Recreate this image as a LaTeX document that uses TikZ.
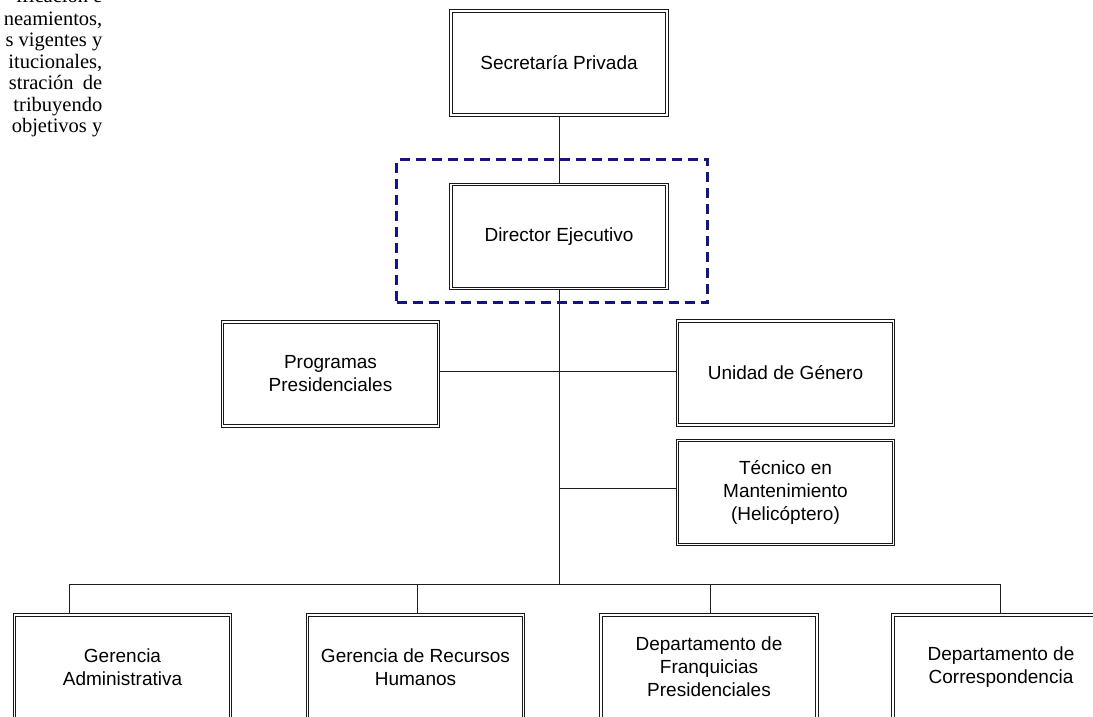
\documentclass[tikz,border=0pt]{standalone}
\usepackage{fontspec}
\newfontfamily\boxfont{Liberation Sans}
\newfontfamily\parafont{Liberation Serif}
\usetikzlibrary{backgrounds}
\definecolor{navyline}{RGB}{20,20,130}
\definecolor{linkgray}{RGB}{30,30,30}
\tikzset{
  orgbox/.style={draw=black!90, double=white, double distance=1.8pt, line width=0.9pt,
    fill=white, minimum width=216pt, minimum height=104pt, inner sep=0pt, align=center,
    font=\boxfont\fontsize{19}{23}\selectfont},
  link/.style={draw=linkgray, line width=1pt},
  framebox/.style={draw=navyline, line width=3pt, dash pattern=on 10pt off 6pt,
    minimum width=311pt, minimum height=143pt, inner sep=0pt},
  para/.style={anchor=base east, inner sep=0pt, font=\parafont\fontsize{20.5}{21.7}\selectfont}
}
\begin{document}
\begin{tikzpicture}[x=1pt,y=-1pt]
\useasboundingbox (0,0) rectangle (1093,716);
\clip (0,0) rectangle (1093,716);

% clipped paragraph on the left
\node[para] (p0) at (102.5,2.5) {ificación e};
\node[para] (p1) at (102.5,25) {neamientos,};
\node[para] (p2) at (102.5,46.5) {s vigentes y};
\node[para] (p3) at (102.5,68) {itucionales,};
\node[para] (p4) at (102.5,89.5) {stración\hspace{0.45em}de};
\node[para] (p5) at (102.5,111) {tribuyendo};
\node[para] (p6) at (102.5,132.5) {objetivos y};

% boxes
\node[orgbox] (sp) at (559,63) {Secretaría Privada};
\node[orgbox] (de) at (559,236.5) {Director Ejecutivo};
\node[orgbox] (pp) at (330.5,374) {Programas\\Presidenciales};
\node[orgbox] (ug) at (785.5,373) {Unidad de Género};
\node[orgbox] (tm) at (785.5,492.5) {Técnico en\\Mantenimiento\\(Helicóptero)};
\node[orgbox] (ga) at (122.5,667) {Gerencia\\Administrativa};
\node[orgbox] (gr) at (415.5,667) {Gerencia de Recursos\\Humanos};
\node[orgbox] (df) at (709,667) {Departamento de\\Franquicias\\Presidenciales};
\node[orgbox] (dc) at (1001,667) {Departamento de\\Correspondencia};

% dashed frame round the Director
\node[framebox] (frame) at (552,231) {};

% junctions
\coordinate (jm) at (559,584);
\coordinate (jl) at (559,371);
\coordinate (jt) at (559,488);
\coordinate (b1) at (69,584);
\coordinate (b2) at (417,584);
\coordinate (b3) at (710,584);
\coordinate (b4) at (1000,584);

\begin{scope}[on background layer]
  \draw[link] (sp.south) -- (de.north);
  \draw[link] (de.south) -- (jm);
  \draw[link] (jl) -- (jl -| pp.east);
  \draw[link] (jl) -- (jl -| ug.west);
  \draw[link] (jt) -- (jt -| tm.west);
  \draw[link] (b1) -- (b4);
  \draw[link] (b1) -- (b1 |- ga.north);
  \draw[link] (b2) -- (b2 |- gr.north);
  \draw[link] (b3) -- (b3 |- df.north);
  \draw[link] (b4) -- (b4 |- dc.north);
\end{scope}
\end{tikzpicture}
\end{document}
